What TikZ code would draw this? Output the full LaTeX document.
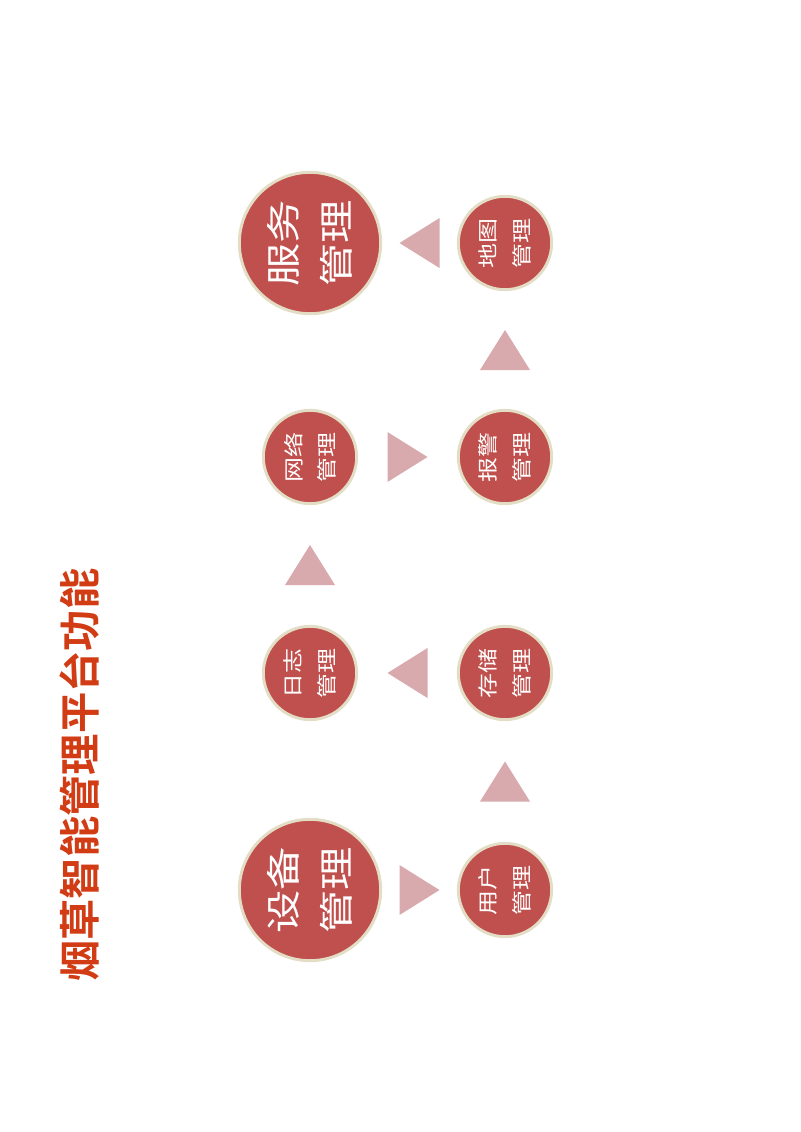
\documentclass[tikz,border=0pt]{standalone}
\usepackage{fontspec}
\newfontfamily\cjk[FakeStretch=1.25]{Noto Sans CJK SC}
\newfontfamily\cjkbold{Noto Sans CJK SC Bold}
\usetikzlibrary{calc}

\definecolor{discred}{HTML}{C0504D}
\definecolor{discrim}{HTML}{E4DDC6}
\definecolor{pointpink}{HTML}{D8A9AD}
\definecolor{titlered}{HTML}{D23C14}

\tikzset{
	disc/.style={circle, fill=discred, draw=discrim, line width=2.2pt, text=white, inner sep=0pt, rotate=90, align=center},
	bigdisc/.style={disc, minimum size=106pt, font=\cjk\fontsize{26}{40}\selectfont},
	smalldisc/.style={disc, minimum size=70pt, font=\cjk\fontsize{15}{25}\selectfont},
	pointer/.pic={\fill[pointpink] (-20,-25) -- (20,0) -- (-20,25) -- cycle;}
}

\begin{document}
\begin{tikzpicture}[x=0.75pt, y=0.75pt]
	\useasboundingbox (0,0) rectangle (800,-1132);

	\node[rotate=90, text=titlered, font=\cjkbold\fontsize{31}{31}\selectfont] (title) at (80,-775) {烟草智能管理平台功能};

	\node[bigdisc] (shebei) at (310,-890) {设备\\管理};
	\node[smalldisc] (yonghu) at (505,-890) {用户\\管理};
	\node[smalldisc] (cunchu) at (505,-673) {存储\\管理};
	\node[smalldisc] (rizhi) at (310,-673) {日志\\管理};
	\node[smalldisc] (wangluo) at (310,-457) {网络\\管理};
	\node[smalldisc] (baojing) at (505,-457) {报警\\管理};
	\node[smalldisc] (ditu) at (505,-243) {地图\\管理};
	\node[bigdisc] (fuwu) at (310,-243) {服务\\管理};

	\pic at ($(shebei.south)!0.5!(yonghu.north)$) {pointer};
	\pic[rotate=90] at ($(yonghu.east)!0.5!(cunchu.west)$) {pointer};
	\pic[rotate=180] at ($(cunchu.north)!0.5!(rizhi.south)$) {pointer};
	\pic[rotate=90] at ($(rizhi.east)!0.5!(wangluo.west)$) {pointer};
	\pic at ($(wangluo.south)!0.5!(baojing.north)$) {pointer};
	\pic[rotate=90] at ($(baojing.east)!0.5!(ditu.west)$) {pointer};
	\pic[rotate=180] at ($(ditu.north)!0.5!(fuwu.south)$) {pointer};
\end{tikzpicture}
\end{document}
